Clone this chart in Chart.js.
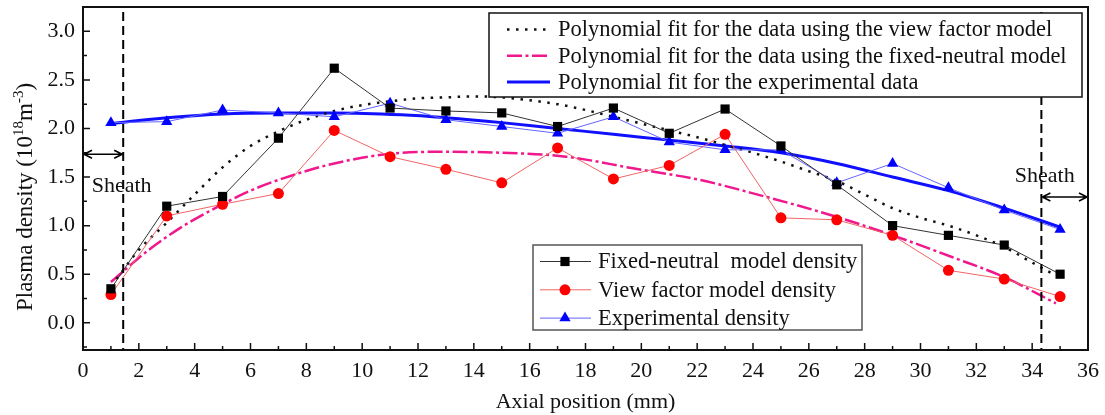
<!DOCTYPE html>
<html>
<head>
<meta charset="utf-8">
<script src="https://cdn.jsdelivr.net/npm/chart.js@4.4.1/dist/chart.umd.min.js"></script>
<style>
  html, body { margin: 0; padding: 0; background: #fff; }
  #wrap { width: 1105px; height: 415px; }
</style>
</head>
<body>
<div id="wrap"><canvas id="chart" width="1105" height="415"></canvas></div>
<script>
// axial positions of the measured / simulated points (mm)
const positions = [1, 3, 5, 7, 9, 11, 13, 15, 17, 19, 21, 23, 25, 27, 29, 31, 33, 35];
const fixedNeutral = [0.35, 1.20, 1.30, 1.90, 2.62, 2.21, 2.18, 2.16, 2.02, 2.21, 1.95, 2.20, 1.82, 1.42, 1.00, 0.90, 0.80, 0.50];
const viewFactor = [0.29, 1.10, 1.22, 1.33, 1.98, 1.71, 1.58, 1.44, 1.80, 1.48, 1.62, 1.94, 1.08, 1.06, 0.90, 0.54, 0.45, 0.27];
const experimental = [2.06, 2.07, 2.19, 2.16, 2.12, 2.26, 2.09, 2.02, 1.95, 2.12, 1.86, 1.78, 1.78, 1.44, 1.64, 1.39, 1.16, 0.96];

// polynomial fit curves
const fitViewX = [1.2, 2, 3, 4, 5, 6, 7, 8, 9, 10, 11, 12, 13, 14, 15, 16, 17, 18, 19, 20, 21, 22, 23, 24, 25, 26, 27, 28, 29, 30, 31, 32, 33, 34, 34.7];
const fitViewY = [0.45, 0.75, 1.03, 1.32, 1.60, 1.82, 1.97, 2.09, 2.18, 2.24, 2.28, 2.31, 2.32, 2.33, 2.32, 2.29, 2.25, 2.19, 2.12, 2.05, 1.98, 1.91, 1.83, 1.75, 1.66, 1.56, 1.46, 1.32, 1.18, 1.08, 1.00, 0.90, 0.78, 0.62, 0.51];
const fitFixedX = [1.0, 2.4, 3.5, 4.7, 6, 7, 9, 11.4, 13, 15, 17.3, 19.7, 22.1, 23.9, 27, 29, 31.1, 33, 34.85];
const fitFixedY = [0.42, 0.76, 0.98, 1.175, 1.36, 1.47, 1.64, 1.75, 1.76, 1.75, 1.71, 1.59, 1.47, 1.34, 1.09, 0.90, 0.68, 0.47, 0.20];
const fitExpX = [1, 3, 5, 7, 9, 11.4, 13, 15, 17, 19, 21, 23, 25, 27, 29, 31, 33, 35];
const fitExpY = [2.05, 2.11, 2.15, 2.16, 2.16, 2.14, 2.11, 2.06, 2.00, 1.94, 1.88, 1.82, 1.75, 1.64, 1.50, 1.36, 1.18, 0.985];

const xTicks = [0, 2, 4, 6, 8, 10, 12, 14, 16, 18, 20, 22, 24, 26, 28, 30, 32, 34, 36];
const yTicks = [0, 0.5, 1.0, 1.5, 2.0, 2.5, 3.0];

const toXY = (xs, ys) => xs.map((x, i) => ({ x: x, y: ys[i] }));
const serif = 'Liberation Serif';

const decor = {
  id: 'decor',
  afterDraw(chart, args, opts) {
    const { ctx, chartArea: a, scales: { x, y } } = chart;
    const ds = chart.data.datasets;
    ctx.save();

    // inward tick marks
    ctx.strokeStyle = '#111';
    ctx.lineWidth = 1.5;
    ctx.setLineDash([]);
    ctx.beginPath();
    for (let v = 0; v <= 36; v++) {
      const px = x.getPixelForValue(v);
      ctx.moveTo(px, a.bottom);
      ctx.lineTo(px, a.bottom - (v % 2 === 0 ? 7 : 4));
    }
    for (let i = -1; i <= 12; i++) {
      const py = y.getPixelForValue(i * 0.25);
      ctx.moveTo(a.left, py);
      ctx.lineTo(a.left + (i % 2 === 0 ? 7 : 4), py);
    }
    ctx.stroke();

    // sheath boundaries
    ctx.strokeStyle = '#000';
    ctx.lineWidth = 2;
    ctx.setLineDash([9, 5]);
    opts.sheathX.forEach(v => {
      const px = x.getPixelForValue(v);
      ctx.beginPath();
      ctx.moveTo(px, a.top + 5);
      ctx.lineTo(px, a.bottom);
      ctx.stroke();
    });
    ctx.setLineDash([]);

    // sheath arrows
    const arrow = (v1, v2, vy) => {
      const x1 = x.getPixelForValue(v1), x2 = x.getPixelForValue(v2), py = y.getPixelForValue(vy);
      ctx.lineWidth = 1.6;
      ctx.beginPath();
      ctx.moveTo(x1 + 1, py); ctx.lineTo(x2 - 1, py);
      ctx.moveTo(x1 + 9, py - 4); ctx.lineTo(x1 + 1, py); ctx.lineTo(x1 + 9, py + 4);
      ctx.moveTo(x2 - 9, py - 4); ctx.lineTo(x2 - 1, py); ctx.lineTo(x2 - 9, py + 4);
      ctx.stroke();
    };
    opts.arrows.forEach(r => arrow(r[0], r[1], r[2]));

    ctx.fillStyle = '#111';
    ctx.font = '22px "' + serif + '"';
    ctx.textAlign = 'left';
    ctx.textBaseline = 'alphabetic';
    opts.notes.forEach(n => ctx.fillText(n.text, x.getPixelForValue(n.x), y.getPixelForValue(n.y)));

    // frame
    ctx.strokeStyle = '#111';
    ctx.lineWidth = 2;
    ctx.strokeRect(a.left, a.top, a.right - a.left, a.bottom - a.top);

    // legend of the fitted curves
    const L1 = opts.legendFits;
    ctx.fillStyle = '#fff';
    ctx.fillRect(L1.x, L1.y, L1.w, L1.h);
    ctx.strokeStyle = '#111';
    ctx.lineWidth = 1.5;
    ctx.strokeRect(L1.x, L1.y, L1.w, L1.h);
    L1.items.forEach((idx, i) => {
      const d = ds[idx];
      const ry = L1.y + L1.first + i * L1.step;
      ctx.strokeStyle = d.borderColor;
      ctx.lineWidth = d.borderWidth;
      ctx.setLineDash(d.borderDash || []);
      ctx.beginPath();
      ctx.moveTo(L1.x + 18, ry);
      ctx.lineTo(L1.x + 61, ry);
      ctx.stroke();
      ctx.setLineDash([]);
      ctx.fillStyle = '#111';
      ctx.font = '22.5px "' + serif + '"';
      ctx.textBaseline = 'middle';
      ctx.fillText(d.label, L1.x + 69, ry + 1);
    });

    // legend of the point series
    const L2 = opts.legendPoints;
    ctx.fillStyle = '#fff';
    ctx.fillRect(L2.x, L2.y, L2.w, L2.h);
    ctx.strokeStyle = '#555';
    ctx.lineWidth = 1.5;
    ctx.strokeRect(L2.x, L2.y, L2.w, L2.h);
    L2.items.forEach((idx, i) => {
      const d = ds[idx];
      const ry = L2.y + L2.first + i * L2.step;
      ctx.strokeStyle = d.borderColor;
      ctx.lineWidth = d.borderWidth;
      ctx.beginPath();
      ctx.moveTo(L2.x + 7, ry);
      ctx.lineTo(L2.x + 58, ry);
      ctx.stroke();
      ctx.fillStyle = d.pointBackgroundColor;
      ctx.strokeStyle = d.pointBackgroundColor;
      Chart.helpers.drawPoint(ctx, { pointStyle: d.pointStyle, radius: d.pointRadius, rotation: 0, borderWidth: 0 }, L2.x + 32, ry);
      ctx.fillStyle = '#111';
      ctx.font = '22.5px "' + serif + '"';
      ctx.textBaseline = 'middle';
      ctx.fillText(d.label, L2.x + 65, ry + 1);
    });

    // y axis title with superscripts
    const T = opts.yTitle;
    const big = '23px "' + serif + '"', small = '15px "' + serif + '"';
    const parts = [['Plasma density (10', big, 0], ['18', small, -9], ['m', big, 0], ['-3', small, -9], [')', big, 0]];
    let total = 0;
    parts.forEach(p => { ctx.font = p[1]; total += ctx.measureText(p[0]).width; });
    ctx.translate(T.x, T.y);
    ctx.rotate(-Math.PI / 2);
    ctx.fillStyle = '#111';
    ctx.textBaseline = 'alphabetic';
    let cx = -total / 2;
    parts.forEach(p => { ctx.font = p[1]; ctx.fillText(p[0], cx, p[2]); cx += ctx.measureText(p[0]).width; });

    ctx.restore();
  }
};

new Chart(document.getElementById('chart'), {
  type: 'line',
  data: {
    datasets: [
      {
        label: 'Fixed-neutral  model density',
        data: toXY(positions, fixedNeutral),
        borderColor: '#333', borderWidth: 1,
        pointStyle: 'rect', pointRadius: 6.5, pointBackgroundColor: '#000', pointBorderWidth: 0
      },
      {
        label: 'View factor model density',
        data: toXY(positions, viewFactor),
        borderColor: '#f06464', borderWidth: 1,
        pointStyle: 'circle', pointRadius: 5.5, pointBackgroundColor: '#ff0000', pointBorderWidth: 0
      },
      {
        label: 'Experimental density',
        data: toXY(positions, experimental),
        borderColor: '#6464ff', borderWidth: 1,
        pointStyle: 'triangle', pointRadius: 6.5, pointBackgroundColor: '#0000ff', pointBorderWidth: 0
      },
      {
        label: 'Polynomial fit for the data using the view factor model',
        data: toXY(fitViewX, fitViewY),
        borderColor: '#111', borderWidth: 2.5, borderDash: [2.5, 6.5],
        pointRadius: 0, cubicInterpolationMode: 'monotone'
      },
      {
        label: 'Polynomial fit for the data using the fixed-neutral model',
        data: toXY(fitFixedX, fitFixedY),
        borderColor: '#f0188c', borderWidth: 2.5, borderDash: [15, 3.5, 3, 3.5],
        pointRadius: 0, cubicInterpolationMode: 'monotone'
      },
      {
        label: 'Polynomial fit for the experimental data',
        data: toXY(fitExpX, fitExpY),
        borderColor: '#1010ff', borderWidth: 3,
        pointRadius: 0, cubicInterpolationMode: 'monotone'
      }
    ]
  },
  options: {
    responsive: false,
    animation: false,
    layout: { padding: { top: 7, right: 17, left: 0, bottom: 0 } },
    plugins: {
      legend: { display: false },
      tooltip: { enabled: false },
      decor: {
        sheathX: [1.44, 34.33],
        arrows: [[0, 1.44, 1.735], [34.33, 36, 1.295]],
        notes: [{ text: 'Sheath', x: 0.31, y: 1.343 }, { text: 'Sheath', x: 33.38, y: 1.446 }],
        legendFits: { x: 489, y: 13, w: 593, h: 84, first: 16.5, step: 26.2, items: [3, 4, 5] },
        legendPoints: { x: 533, y: 245, w: 329, h: 85, first: 16.5, step: 28.3, items: [0, 1, 2] },
        yTitle: { x: 31.5, y: 197 }
      }
    },
    scales: {
      x: {
        type: 'linear', min: 0, max: 36,
        grid: { display: false, drawTicks: false },
        border: { display: false },
        afterBuildTicks: s => { s.ticks = xTicks.map(v => ({ value: v })); },
        afterFit: s => { s.height = 65; s.paddingLeft = 0; s.paddingRight = 0; },
        ticks: { padding: 8, color: '#111', maxRotation: 0, autoSkip: false, font: { family: serif, size: 22 } },
        title: { display: true, text: 'Axial position (mm)', color: '#111', padding: 0, font: { family: serif, size: 22 } }
      },
      y: {
        type: 'linear', min: -0.28, max: 3.25,
        grid: { display: false, drawTicks: false },
        border: { display: false },
        afterBuildTicks: s => { s.ticks = yTicks.map(v => ({ value: v })); },
        afterFit: s => { s.width = 83; s.paddingTop = 0; s.paddingBottom = 0; },
        ticks: { padding: 8, color: '#111', callback: v => v.toFixed(1), font: { family: serif, size: 22 } }
      }
    }
  },
  plugins: [decor]
});
</script>
</body>
</html>
